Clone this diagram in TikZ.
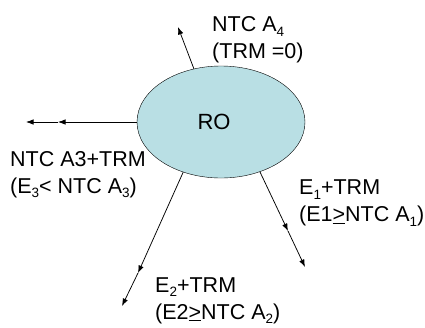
\documentclass[tikz,border=0pt]{standalone}
\usepackage{fontspec}
\setmainfont{Liberation Sans}
\usetikzlibrary{shapes.geometric,arrows.meta}
\definecolor{roblue}{RGB}{185,223,228}
\newcommand\lowidx[1]{\raisebox{-0.22em}{\fontsize{13.5}{13.5}\selectfont #1}}
\begin{document}
\begin{tikzpicture}[x=1pt,y=-1pt, every node/.style={inner sep=0pt},
  lab/.style={anchor=base west,align=left,font=\fontsize{21.5}{27}\selectfont},
  arr/.style={-{Latex[length=7.5pt,width=5.5pt]},line width=0.75pt}]
		\useasboundingbox (0,0) rectangle (425,327);
		\node [ellipse,draw,fill=roblue,minimum width=168pt,minimum height=112pt,font=\fontsize{22}{27}\selectfont] (ro) at (221,122) {RO\hspace*{14pt}};
		
		\coordinate (a4) at (178,27);
		\coordinate (a3m) at (58,122);
		\coordinate (a3) at (26,122);
		\coordinate (a1m) at (288,231);
		\coordinate (a1) at (305,267);
		\coordinate (a2m) at (138,273);
		\coordinate (a2) at (122,306);
		
		\draw[arr] (ro.117) -- (a4);
		\draw[arr] (ro.180) -- (a3m);
		\draw[arr] (a3m) -- (a3);
		\draw[arr] (ro.-52) -- (a1m);
		\draw[arr] (a1m) -- (a1);
		\draw[arr] (ro.-127) -- (a2m);
		\draw[arr] (a2m) -- (a2);
		
		% base anchor sits on the last line
		\node [lab] (a4l) at (212,58.3) {NTC A\lowidx{4}\\(TRM =0)};
		\node [lab] (a3l) at (10,193) {NTC A3+TRM\\(E\lowidx{3}< NTC A\lowidx{3})};
		\node [lab] (a1l) at (299,221.5) {E\lowidx{1}+TRM\\(E1\underline{>}NTC A\lowidx{1})};
		\node [lab] (a2l) at (155,319) {E\lowidx{2}+TRM\\(E2\underline{>}NTC A\lowidx{2})};
\end{tikzpicture}
\end{document}
